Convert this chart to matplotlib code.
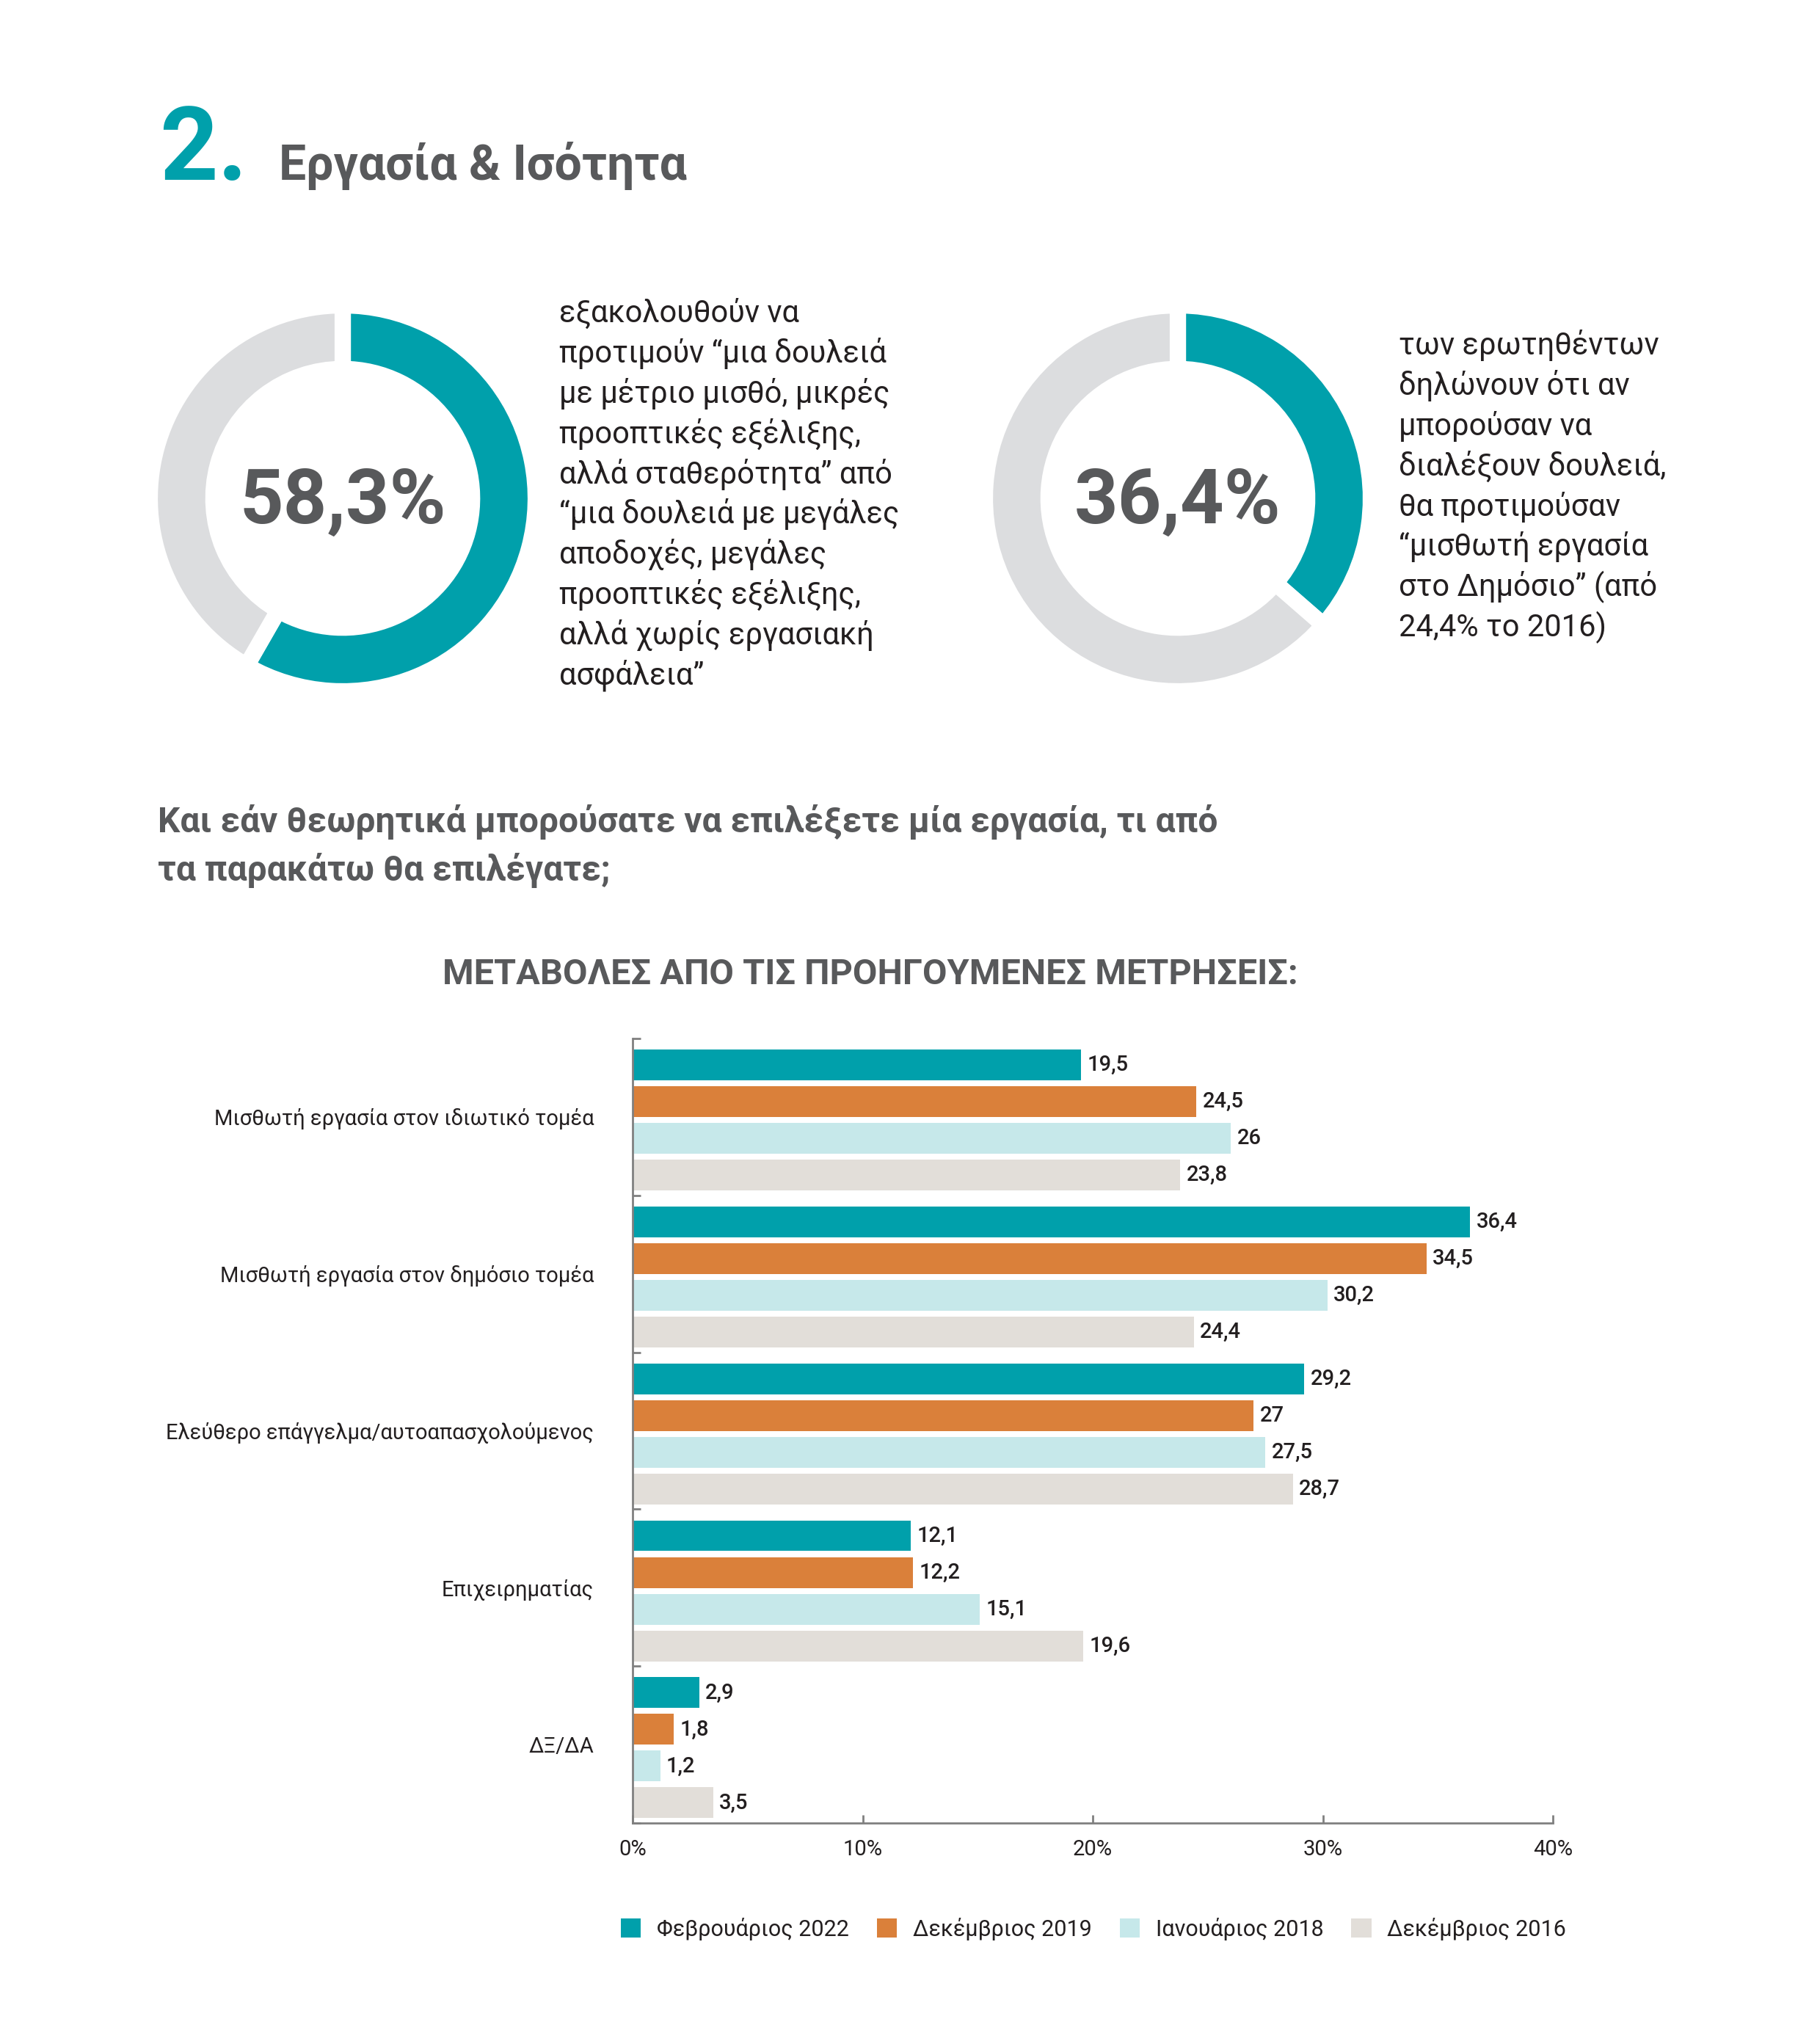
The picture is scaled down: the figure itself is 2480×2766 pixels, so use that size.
import matplotlib.pyplot as plt
import numpy as np
from matplotlib.patches import Patch

plt.rcParams['font.family'] = ['Roboto', 'DejaVu Sans']

W, H = 2480, 2766
TEAL = "#00A0AB"
ORANGE = "#DA803A"
LIGHT = "#C6E8EA"
BEIGE = "#E2DED9"
RING_GREY = "#DCDDDF"
TXT_GREY = "#58595B"
TXT_DARK = "#231F20"

# donut data
donut1_value = 58.3
donut2_value = 36.4
donut1_label = "58,3%"
donut2_label = "36,4%"
donut1_text = ["εξακολουθούν να", "προτιμούν “μια δουλειά", "με μέτριο μισθό, μικρές",
               "προοπτικές εξέλιξης,", "αλλά σταθερότητα” από", "“μια δουλειά με μεγάλες",
               "αποδοχές, μεγάλες", "προοπτικές εξέλιξης,", "αλλά χωρίς εργασιακή",
               "ασφάλεια”"]
donut2_text = ["των ερωτηθέντων", "δηλώνουν ότι αν", "μπορούσαν να",
               "διαλέξουν δουλειά,", "θα προτιμούσαν", "“μισθωτή εργασία",
               "στο Δημόσιο” (από", "24,4% το 2016)"]

# bar chart data
categories = ["Μισθωτή εργασία στον ιδιωτικό τομέα",
              "Μισθωτή εργασία στον δημόσιο τομέα",
              "Ελεύθερο επάγγελμα/αυτοαπασχολούμενος",
              "Επιχειρηματίας",
              "ΔΞ/ΔΑ"]
series_names = ["Φεβρουάριος 2022", "Δεκέμβριος 2019", "Ιανουάριος 2018", "Δεκέμβριος 2016"]
feb2022 = [19.5, 36.4, 29.2, 12.1, 2.9]
dec2019 = [24.5, 34.5, 27, 12.2, 1.8]
jan2018 = [26, 30.2, 27.5, 15.1, 1.2]
dec2016 = [23.8, 24.4, 28.7, 19.6, 3.5]
x_ticks = [0, 10, 20, 30, 40]
x_ticklabels = ["0%", "10%", "20%", "30%", "40%"]

series = [feb2022, dec2019, jan2018, dec2016]
colors = [TEAL, ORANGE, LIGHT, BEIGE]

fig = plt.figure(figsize=(W / 100, H / 100), dpi=100)


def px(x, y):
    return x / W, 1 - y / H


# header
fig.text(*px(217, 245), "2.", color=TEAL, fontsize=100, fontweight="bold", va="baseline")
fig.text(*px(380, 245), "Εργασία & Ισότητα", color=TXT_GREY, fontsize=47.5, fontweight="bold", va="baseline")


def donut(cx, cy, value, label):
    R = 263
    ax = fig.add_axes([(cx - R) / W, 1 - (cy + R) / H, 2 * R / W, 2 * R / H])
    ax.pie([value, 100 - value], colors=[TEAL, RING_GREY], startangle=90, counterclock=False,
           radius=1, wedgeprops=dict(width=0.33, edgecolor="white", linewidth=16))
    ax.set_xlim(-1, 1)
    ax.set_ylim(-1, 1)
    ax.set_aspect("equal")
    ax.axis("off")
    ax.text(0, -0.02, label, ha="center", va="center", fontsize=75, fontweight="bold", color=TXT_GREY)


donut(467, 679, donut1_value, donut1_label)
donut(1605, 679, donut2_value, donut2_label)

for i, line in enumerate(donut1_text):
    fig.text(*px(762, 427 + i * 54.8), line, fontsize=30, color=TXT_DARK, va="center")
for i, line in enumerate(donut2_text):
    fig.text(*px(1906, 471 + i * 54.9), line, fontsize=30, color=TXT_DARK, va="center")

# question and subtitle
fig.text(*px(215, 1120), "Και εάν θεωρητικά μπορούσατε να επιλέξετε μία εργασία, τι από",
         fontsize=34.5, fontweight="bold", color=TXT_GREY, va="center")
fig.text(*px(215, 1186), "τα παρακάτω θα επιλέγατε;",
         fontsize=34.5, fontweight="bold", color=TXT_GREY, va="center")
fig.text(*px(1186, 1328), "ΜΕΤΑΒΟΛΕΣ ΑΠΟ ΤΙΣ ΠΡΟΗΓΟΥΜΕΝΕΣ ΜΕΤΡΗΣΕΙΣ:",
         fontsize=35, fontweight="bold", color=TXT_GREY, va="center", ha="center")

# bar chart
ax = fig.add_axes([862 / W, 1 - 2484 / H, (2116 - 862) / W, (2484 - 1415) / H])
y = np.arange(len(categories))
pitch = 0.234
bh = 0.196
for k, (vals, col) in enumerate(zip(series, colors)):
    pos = y + (k - 1.5) * pitch + 0.02
    bars = ax.barh(pos, vals, height=bh, color=col, label=series_names[k])
    ax.bar_label(bars, labels=[f"{v:g}".replace(".", ",") for v in vals], padding=6,
                 fontsize=21, fontweight="medium", color=TXT_DARK)

ax.set_xlim(0, 40)
ax.set_ylim(len(categories) - 0.5, -0.5)
ax.set_xticks(x_ticks)
ax.set_xticklabels(x_ticklabels, fontsize=21, color=TXT_DARK)
ax.set_yticks(np.arange(len(categories) + 1) - 0.5)
ax.set_yticklabels([])
ax.set_yticks(y, minor=True)
ax.set_yticklabels(categories, minor=True, fontsize=21, color=TXT_DARK)
ax.tick_params(axis="y", which="minor", length=0, pad=38)
ax.tick_params(axis="y", which="major", direction="in", length=8, width=2, color="#808080")
ax.tick_params(axis="x", direction="in", length=8, width=2, color="#808080", pad=16)
for s in ["top", "right"]:
    ax.spines[s].set_visible(False)
for s in ["left", "bottom"]:
    ax.spines[s].set_color("#808080")
    ax.spines[s].set_linewidth(2)

handles = [Patch(facecolor=c, edgecolor="none") for c in colors]
fig.legend(handles, series_names, loc="center", bbox_to_anchor=(1490 / W, 1 - 2628 / H), ncol=4,
           frameon=False, fontsize=22, handlelength=0.9, handleheight=0.9, columnspacing=1.25,
           handletextpad=0.7, labelcolor=TXT_DARK)

fig.savefig("out.png", dpi=100, facecolor="white")
